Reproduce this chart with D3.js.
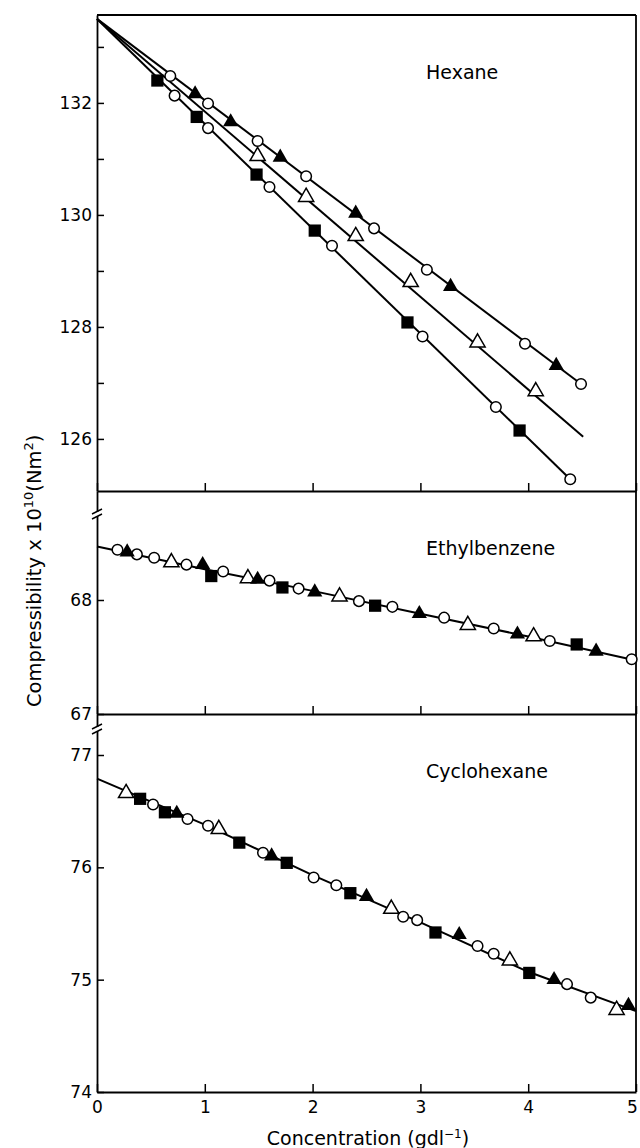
<!DOCTYPE html>
<html>
<head>
<meta charset="utf-8">
<script src="https://cdn.jsdelivr.net/npm/d3@7"></script>
<style>
  body { margin: 0; background: #fff; }
  text { font-family: 'DejaVu Sans', sans-serif; fill: #000; }
</style>
</head>
<body>
<div id="plot"></div>
<script>
let xTicks = [0, 1, 2, 3, 4, 5];

// Hexane
let hexaneTicks = [126, 128, 130, 132];
let hexaneMinor = [127, 129, 131, 133];
let hexaneLines = [
  [[0, 133.5], [4.49, 126.98]],
  [[0, 133.5], [4.51, 126.04]],
  [[0, 133.5], [4.39, 125.28]]
];
let hexaneCircles = [[0.68, 132.48], [1.03, 131.99], [1.49, 131.32], [1.94, 130.69], [2.57, 129.76], [3.06, 129.02], [3.97, 127.70], [4.49, 126.98],
  [0.72, 132.13], [1.03, 131.55], [1.60, 130.50], [2.18, 129.45], [3.02, 127.83], [3.70, 126.57], [4.39, 125.28]];
let hexaneFilled = [[0.91, 132.16], [1.24, 131.66], [1.70, 131.03], [2.40, 130.03], [3.28, 128.72], [4.26, 127.31]];
let hexaneOpen = [[1.49, 131.05], [1.94, 130.32], [2.40, 129.62], [2.91, 128.80], [3.53, 127.72], [4.07, 126.85]];
let hexaneSquares = [[0.56, 132.40], [0.925, 131.75], [1.48, 130.72], [2.02, 129.72], [2.88, 128.08], [3.92, 126.15]];

// Ethylbenzene
let ethylTicks = [67, 68];
let ethylLine = [[0, 68.47], [1, 68.27], [2, 68.08], [3, 67.88], [4, 67.68], [5, 67.47]];
let ethylCircles = [[0.19, 68.44], [0.37, 68.40], [0.53, 68.37], [0.83, 68.31], [1.17, 68.25], [1.60, 68.17], [1.87, 68.10], [2.43, 67.99],
  [2.74, 67.94], [3.22, 67.845], [3.68, 67.75], [4.20, 67.64], [4.96, 67.48]];
let ethylFilled = [[0.28, 68.42], [0.98, 68.31], [1.49, 68.18], [2.02, 68.07], [2.99, 67.88], [3.90, 67.70], [4.63, 67.55]];
let ethylOpen = [[0.69, 68.33], [1.40, 68.19], [2.25, 68.03], [3.44, 67.78], [4.05, 67.68]];
let ethylSquares = [[1.06, 68.21], [1.72, 68.11], [2.58, 67.95], [4.45, 67.61]];

// Cyclohexane
let cycloTicks = [74, 75, 76, 77];
let cycloLine = [[0, 76.79], [1, 76.38], [2, 75.93], [3, 75.51], [4, 75.07], [5, 74.72]];
let cycloCircles = [[0.52, 76.56], [0.84, 76.43], [1.03, 76.37], [1.54, 76.13], [2.01, 75.91], [2.22, 75.84], [2.84, 75.56], [2.97, 75.53],
  [3.53, 75.30], [3.68, 75.23], [4.36, 74.96], [4.58, 74.84]];
let cycloFilled = [[0.74, 76.48], [1.62, 76.10], [2.50, 75.74], [3.36, 75.40], [4.24, 75.00], [4.93, 74.77]];
let cycloOpen = [[0.27, 76.66], [1.13, 76.34], [2.73, 75.63], [3.83, 75.17], [4.82, 74.73]];
let cycloSquares = [[0.40, 76.61], [0.63, 76.49], [1.32, 76.22], [1.76, 76.04], [2.35, 75.77], [3.14, 75.42], [4.01, 75.06]];

let width = 640, height = 1148, left = 97, right = 636;

let panels = [
  {title: 'Hexane', top: 15, bottom: 491, domain: [125.07, 133.57], ticks: hexaneTicks, minor: hexaneMinor,
   lines: hexaneLines, circles: hexaneCircles, filled: hexaneFilled, open: hexaneOpen, squares: hexaneSquares, titleY: 72, brk: null},
  {title: 'Ethylbenzene', top: 491, bottom: 714, domain: [67, 68.956], ticks: ethylTicks, minor: [],
   lines: [ethylLine], circles: ethylCircles, filled: ethylFilled, open: ethylOpen, squares: ethylSquares, titleY: 548, brk: 514},
  {title: 'Cyclohexane', top: 714, bottom: 1092, domain: [74, 77.365], ticks: cycloTicks, minor: [],
   lines: [cycloLine], circles: cycloCircles, filled: cycloFilled, open: cycloOpen, squares: cycloSquares, titleY: 771, brk: 729}
];

let svg = d3.select('#plot').append('svg').attr('width', width).attr('height', height).style('background', 'white');
let x = d3.scaleLinear().domain([0, 5]).range([left, right]);

let sym = {
  circle: d3.symbol().type(d3.symbolCircle).size(88),
  square: d3.symbol().type(d3.symbolSquare).size(150),
  tri: d3.symbol().type(d3.symbolTriangle).size(100)
};

panels.forEach((p, i) => {
  let y = d3.scaleLinear().domain(p.domain).range([p.bottom, p.top]);
  let g = svg.append('g');
  let last = i === panels.length - 1;

  let line = d3.line().x(d => x(d[0])).y(d => y(d[1]));
  g.selectAll('path.fit').data(p.lines).enter().append('path')
    .attr('class', 'fit').attr('d', line)
    .attr('fill', 'none').attr('stroke', '#000').attr('stroke-width', 2);

  // frame
  g.append('line').attr('x1', right).attr('x2', right).attr('y1', p.top).attr('y2', p.bottom)
    .attr('stroke', '#000').attr('stroke-width', 1.8);
  if (i === 0) {
    g.append('line').attr('x1', left).attr('x2', right).attr('y1', p.top).attr('y2', p.top)
      .attr('stroke', '#000').attr('stroke-width', 1.8);
  }

  let ya = g.append('g').attr('transform', `translate(${left},0)`)
    .call(d3.axisLeft(y).tickValues(p.ticks).tickSizeInner(-7).tickSizeOuter(0).tickPadding(5).tickFormat(d3.format('d')));
  ya.select('.domain').attr('stroke-width', 1.8);
  ya.selectAll('.tick line').attr('stroke-width', 1.5);
  ya.selectAll('text').style('font-size', '17px').attr('font-family', null);

  if (p.minor.length) {
    let ym = g.append('g').attr('transform', `translate(${left},0)`)
      .call(d3.axisLeft(y).tickValues(p.minor).tickSizeInner(-7).tickSizeOuter(0).tickFormat(''));
    ym.select('.domain').remove();
    ym.selectAll('.tick line').attr('stroke-width', 1.5);
  }

  let xa = g.append('g').attr('transform', `translate(0,${p.bottom})`)
    .call(d3.axisBottom(x).tickValues(xTicks).tickSizeInner(-8).tickSizeOuter(0).tickPadding(9)
      .tickFormat(last ? d3.format('d') : ''));
  xa.select('.domain').attr('stroke-width', 1.8);
  xa.selectAll('.tick line').attr('stroke-width', 1.5);
  xa.selectAll('text').style('font-size', '17px').attr('font-family', null)
    .attr('dx', d => d === 5 ? -4 : 0);

  if (p.brk) {
    g.append('rect').attr('x', left - 2).attr('y', p.brk - 2).attr('width', 4).attr('height', 4).attr('fill', '#fff');
    g.selectAll('line.brk').data([-2.5, 2.5]).enter().append('line').attr('class', 'brk')
      .attr('x1', left - 5).attr('x2', left + 5)
      .attr('y1', d => p.brk + d + 2.5).attr('y2', d => p.brk + d - 2.5)
      .attr('stroke', '#000').attr('stroke-width', 1.5);
  }

  g.append('text').attr('x', 426).attr('y', p.titleY).attr('dy', '0.35em')
    .style('font-size', '19px').text(p.title);

  let marks = g.append('g');
  marks.selectAll('path.c').data(p.circles).enter().append('path')
    .attr('transform', d => `translate(${x(d[0])},${y(d[1])})`).attr('d', sym.circle)
    .attr('fill', '#fff').attr('stroke', '#000').attr('stroke-width', 1.5);
  marks.selectAll('path.ot').data(p.open).enter().append('path')
    .attr('transform', d => `translate(${x(d[0])},${y(d[1])})`).attr('d', sym.tri)
    .attr('fill', '#fff').attr('stroke', '#000').attr('stroke-width', 1.5);
  marks.selectAll('path.ft').data(p.filled).enter().append('path')
    .attr('transform', d => `translate(${x(d[0])},${y(d[1])})`).attr('d', sym.tri)
    .attr('fill', '#000');
  marks.selectAll('path.sq').data(p.squares).enter().append('path')
    .attr('transform', d => `translate(${x(d[0])},${y(d[1])})`).attr('d', sym.square)
    .attr('fill', '#000');
});

let xl = svg.append('text').attr('x', 368).attr('y', 1138).attr('dy', '0.35em')
  .attr('text-anchor', 'middle').style('font-size', '19px');
xl.append('tspan').text('Concentration (gdl');
xl.append('tspan').attr('dy', -7).style('font-size', '12px').text('−1');
xl.append('tspan').attr('dy', 7).text(')');

let yl = svg.append('text').attr('transform', 'translate(41,707) rotate(-90)')
  .attr('text-anchor', 'start').style('font-size', '19.5px');
yl.append('tspan').text('Compressibility x 10');
yl.append('tspan').attr('dy', -8).style('font-size', '13px').text('10');
yl.append('tspan').attr('dy', 8).text('(Nm');
yl.append('tspan').attr('dy', -8).style('font-size', '13px').text('2');
yl.append('tspan').attr('dy', 8).text(')');
</script>
</body>
</html>
